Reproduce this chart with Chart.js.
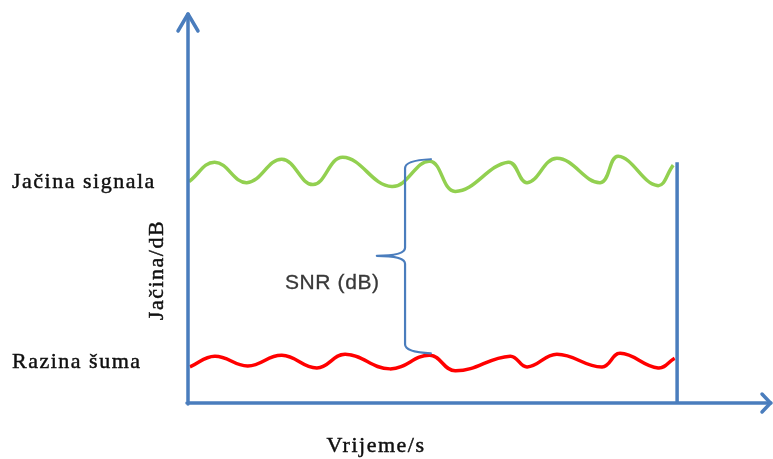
<!DOCTYPE html>
<html>
<head>
<meta charset="utf-8">
<script src="https://cdn.jsdelivr.net/npm/chart.js@4/dist/chart.umd.min.js"></script>
<style>
html,body{margin:0;padding:0;background:#fff;}
#wrap{width:773px;height:459px;position:relative;}
</style>
</head>
<body>
<div id="wrap"><canvas id="c"></canvas></div>
<script>
// time axis (s) and level axis (dB) ranges
const xRange = [0, 12];
const yRange = [0, 40];

// signal strength (green wavy line)
const signalTime  = [0.02, 0.55, 1.21, 1.93, 2.57, 3.18, 4.19, 4.97, 5.49, 6.58, 6.97, 7.58, 8.47, 8.84, 9.64, 9.97];
const signalLevel = [22.7, 24.7, 22.6, 25.0, 22.4, 25.2, 22.2, 24.8, 21.7, 24.7, 22.6, 25.1, 22.6, 25.3, 22.3, 24.4];

// noise level (red wavy line)
const noiseTime  = [0.04, 0.55, 1.23, 1.93, 2.65, 3.23, 4.15, 4.97, 5.49, 6.62, 6.97, 7.58, 8.51, 8.88, 9.66, 10.0];
const noiseLevel = [3.7, 4.8, 3.8, 4.9, 3.6, 5.0, 3.5, 4.9, 3.3, 4.8, 3.7, 5.0, 3.7, 5.1, 3.6, 4.6];

// end-of-measurement vertical marker
const markerTime  = [10.05, 10.05];
const markerLevel = [24.7, 0];

// SNR brace (time position, hook end, tip, levels)
const braceTime = 4.46;
const braceHookTime = 4.99;
const braceTipTime = 3.88;
const braceTop = 24.9;
const braceMid = 15.1;
const braceBottom = 5.2;

// texts
const signalLabel = "Jačina signala";
const noiseLabel = "Razina šuma";
const yTitle = "Jačina/dB";
const xTitle = "Vrijeme/s";
const snrLabel = "SNR (dB)";

const toXY = (xs, ys) => xs.map((x, i) => ({x: x, y: ys[i]}));

const BLUE = '#4a7dbd';

function heavyText(ctx, txt, x, y) {
  ctx.fillText(txt, x, y);
  ctx.strokeText(txt, x, y);
}

const overlay = {
  id: 'overlay',
  afterDatasetsDraw(chart) {
    const ctx = chart.ctx;
    const xs = chart.scales.x, ys = chart.scales.y;
    const X = v => xs.getPixelForValue(v);
    const Y = v => ys.getPixelForValue(v);
    ctx.save();
    ctx.strokeStyle = BLUE;
    ctx.lineWidth = 3.5;
    ctx.lineCap = 'round';
    ctx.lineJoin = 'round';
    const x0 = X(xRange[0]), y0 = Y(yRange[0]);
    const xEnd = X(xRange[1]), yEnd = Y(yRange[1]);
    ctx.beginPath();
    ctx.moveTo(x0, y0 + 1);
    ctx.lineTo(x0, yEnd + 1);
    ctx.moveTo(x0 - 1, y0);
    ctx.lineTo(xEnd - 1, y0);
    ctx.stroke();
    ctx.beginPath();
    ctx.moveTo(x0 - 10, yEnd + 18);
    ctx.lineTo(x0, yEnd + 1);
    ctx.lineTo(x0 + 10, yEnd + 18);
    ctx.moveTo(xEnd - 10, y0 - 9);
    ctx.lineTo(xEnd - 1.5, y0);
    ctx.lineTo(xEnd - 10, y0 + 9);
    ctx.stroke();
    const bx = X(braceTime), hx = X(braceHookTime), tx = X(braceTipTime);
    const bt = Y(braceTop), bm = Y(braceMid), bb = Y(braceBottom);
    ctx.lineWidth = 2.2;
    ctx.beginPath();
    ctx.moveTo(hx, bt - 1);
    ctx.quadraticCurveTo(bx, bt, bx, bt + 8);
    ctx.lineTo(bx, bm - 8);
    ctx.quadraticCurveTo(bx, bm, tx, bm);
    ctx.quadraticCurveTo(bx, bm, bx, bm + 8);
    ctx.lineTo(bx, bb - 8);
    ctx.quadraticCurveTo(bx, bb, hx, bb + 1);
    ctx.stroke();
    ctx.restore();
  },
  afterDraw(chart) {
    const ctx = chart.ctx;
    ctx.save();
    ctx.fillStyle = '#101010';
    ctx.strokeStyle = '#101010';
    ctx.lineWidth = 0.45;
    ctx.font = '22px "Liberation Serif", "Times New Roman", serif';
    try { ctx.letterSpacing = '1.5px'; } catch (e) {}
    ctx.textAlign = 'left';
    ctx.textBaseline = 'alphabetic';
    heavyText(ctx, signalLabel, 12, 188);
    heavyText(ctx, noiseLabel, 12, 368);
    ctx.textAlign = 'center';
    heavyText(ctx, xTitle, 376, 452);
    ctx.save();
    ctx.translate(163, 270);
    ctx.rotate(-Math.PI / 2);
    heavyText(ctx, yTitle, 0, 0);
    ctx.restore();
    try { ctx.letterSpacing = '0.6px'; } catch (e) {}
    ctx.fillStyle = '#383838';
    ctx.strokeStyle = '#383838';
    ctx.lineWidth = 0.3;
    ctx.font = '21px "Liberation Sans", Arial, sans-serif';
    ctx.textAlign = 'left';
    heavyText(ctx, snrLabel, 285, 289);
    ctx.restore();
  }
};

new Chart(document.getElementById('c'), {
  type: 'line',
  data: {
    datasets: [
      {
        label: 'marker',
        data: toXY(markerTime, markerLevel),
        borderColor: BLUE,
        borderWidth: 3.5,
        pointRadius: 0,
        tension: 0,
        order: 0
      },
      {
        label: signalLabel,
        data: toXY(signalTime, signalLevel),
        borderColor: '#92d050',
        borderWidth: 3.5,
        pointRadius: 0,
        tension: 0.42,
        order: 1
      },
      {
        label: noiseLabel,
        data: toXY(noiseTime, noiseLevel),
        borderColor: '#ff0000',
        borderWidth: 3.5,
        pointRadius: 0,
        tension: 0.42,
        order: 2
      }
    ]
  },
  options: {
    responsive: true,
    maintainAspectRatio: false,
    animation: false,
    events: [],
    layout: { padding: { left: 188, right: 1, top: 13, bottom: 56 } },
    plugins: { legend: { display: false }, tooltip: { enabled: false }, title: { display: false } },
    scales: {
      x: { type: 'linear', min: xRange[0], max: xRange[1], display: false },
      y: { type: 'linear', min: yRange[0], max: yRange[1], display: false }
    }
  },
  plugins: [overlay]
});
</script>
</body>
</html>
